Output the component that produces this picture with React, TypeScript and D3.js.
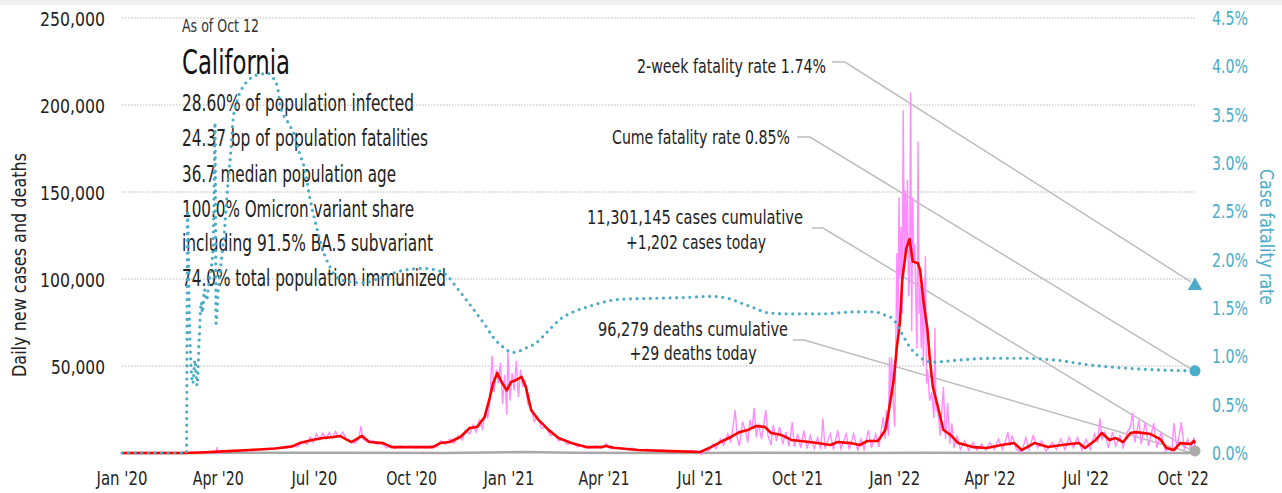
import React from "react";
import * as d3 from "d3";

const width = 1282;
const height = 493;
const FONT = "'Liberation Sans Narrow', 'Arial Narrow', 'DejaVu Sans Condensed', sans-serif";
const TEAL = "#4aacc6";

// left axis (cases) and right axis (case fatality rate, %)
const caseTicks = [50000, 100000, 150000, 200000, 250000];
const rateTicks = [0, 0.5, 1, 1.5, 2, 2.5, 3, 3.5, 4, 4.5];

const asOf = "As of Oct 12";
const stateName = "California";
const infoLines = [
  "28.60% of population infected",
  "24.37 bp of population fatalities",
  "36.7 median population age",
  "100.0% Omicron variant share",
  "including 91.5% BA.5 subvariant",
  "74.0% total population immunized",
];

const twoWeekRate = 1.74;
const cumeRate = 0.85;
const casesCumulative = "11,301,145";
const casesToday = 1202;
const deathsCumulative = "96,279";
const deathsToday = 29;

// 7-day average of new cases
const cases7day: [string, number][] = [
  ["2020-01-01", 0], ["2020-03-01", 0], ["2020-03-20", 400], ["2020-04-10", 1100],
  ["2020-05-01", 1700], ["2020-05-25", 2600], ["2020-06-10", 3800], ["2020-06-17", 5700],
  ["2020-06-29", 7500], ["2020-07-09", 8600], ["2020-07-19", 9200], ["2020-07-25", 9800],
  ["2020-08-05", 6300], ["2020-08-15", 9800], ["2020-08-22", 6300], ["2020-09-04", 5700],
  ["2020-09-12", 3400], ["2020-10-21", 3400], ["2020-10-28", 5700], ["2020-11-06", 6300],
  ["2020-11-16", 9200], ["2020-11-25", 14400], ["2020-12-02", 15000], ["2020-12-09", 20700],
  ["2020-12-14", 32000], ["2020-12-17", 40000], ["2020-12-21", 46000], ["2020-12-25", 40800],
  ["2020-12-30", 36000], ["2021-01-03", 40800], ["2021-01-08", 42000], ["2021-01-13", 43700],
  ["2021-01-17", 38000], ["2021-01-22", 24700], ["2021-01-29", 19000], ["2021-02-08", 13000],
  ["2021-02-17", 8600], ["2021-03-01", 5700], ["2021-03-15", 3400], ["2021-03-30", 3400],
  ["2021-04-03", 4000], ["2021-04-10", 3000], ["2021-05-03", 1700], ["2021-06-03", 1100],
  ["2021-07-01", 600], ["2021-07-11", 3400], ["2021-07-20", 6300], ["2021-07-30", 9200],
  ["2021-08-07", 12000], ["2021-08-15", 13200], ["2021-08-23", 15500], ["2021-08-31", 15000],
  ["2021-09-06", 11500], ["2021-09-16", 10300], ["2021-09-25", 7500], ["2021-10-04", 6900],
  ["2021-10-20", 5700], ["2021-11-01", 4600], ["2021-11-08", 6300], ["2021-11-20", 5700],
  ["2021-11-29", 4600], ["2021-12-06", 6900], ["2021-12-16", 6900], ["2021-12-18", 8600],
  ["2021-12-23", 13200], ["2021-12-26", 23000], ["2021-12-31", 42000], ["2022-01-03", 61000],
  ["2022-01-06", 76000], ["2022-01-08", 99000], ["2022-01-12", 118000], ["2022-01-15", 123000],
  ["2022-01-18", 110000], ["2022-01-23", 109000], ["2022-01-25", 105000], ["2022-01-28", 88000],
  ["2022-02-01", 70700], ["2022-02-03", 55000], ["2022-02-06", 38000], ["2022-02-11", 26000],
  ["2022-02-16", 13200], ["2022-02-23", 10300], ["2022-03-02", 5700], ["2022-03-16", 3400],
  ["2022-03-29", 2900], ["2022-04-12", 4600], ["2022-04-24", 5700], ["2022-05-01", 1700],
  ["2022-05-13", 5700], ["2022-05-26", 3400], ["2022-06-08", 4600], ["2022-06-24", 5700],
  ["2022-06-30", 2900], ["2022-07-10", 7500], ["2022-07-16", 11500], ["2022-07-23", 7500],
  ["2022-07-29", 8600], ["2022-08-05", 6300], ["2022-08-12", 11500], ["2022-08-17", 12000],
  ["2022-08-31", 10900], ["2022-09-09", 8000], ["2022-09-15", 2900], ["2022-09-22", 1700],
  ["2022-09-28", 5700], ["2022-10-08", 5200], ["2022-10-11", 6900], ["2022-10-12", 5700],
];

// reported new cases per day
const casesDaily: [string, number][] = [
  ["2020-01-01", 0], ["2020-03-01", 0], ["2020-03-20", 300], ["2020-03-30", 800], ["2020-03-31", 3400],
  ["2020-04-01", -400], ["2020-04-10", 1200], ["2020-04-20", 1000], ["2020-05-01", 1800], ["2020-05-15", 2000],
  ["2020-05-25", 2800], ["2020-06-05", 3000], ["2020-06-10", 4200], ["2020-06-15", 3600], ["2020-06-20", 6500],
  ["2020-06-24", 5000], ["2020-06-27", 9000], ["2020-06-30", 6000], ["2020-07-03", 11000], ["2020-07-06", 7500],
  ["2020-07-09", 11500], ["2020-07-12", 8000], ["2020-07-15", 11800], ["2020-07-18", 8500], ["2020-07-21", 12500],
  ["2020-07-24", 9000], ["2020-07-28", 12000], ["2020-07-31", 8000], ["2020-08-04", 7000], ["2020-08-08", 5500],
  ["2020-08-12", 8000], ["2020-08-14", 15500], ["2020-08-16", 8000], ["2020-08-20", 6500], ["2020-08-25", 7000],
  ["2020-08-29", 5000], ["2020-09-02", 6000], ["2020-09-07", 3000], ["2020-09-11", 4500], ["2020-09-15", 2500],
  ["2020-09-20", 4200], ["2020-09-25", 3000], ["2020-09-30", 4000], ["2020-10-05", 2800], ["2020-10-10", 4000],
  ["2020-10-15", 2800], ["2020-10-20", 4200], ["2020-10-25", 3500], ["2020-10-29", 7000], ["2020-11-02", 5000],
  ["2020-11-06", 8000], ["2020-11-10", 5500], ["2020-11-14", 10000], ["2020-11-18", 7500], ["2020-11-21", 13000],
  ["2020-11-25", 11000], ["2020-11-28", 16000], ["2020-12-01", 12000], ["2020-12-04", 19000], ["2020-12-07", 14000],
  ["2020-12-10", 24000], ["2020-12-12", 20000], ["2020-12-14", 30000], ["2020-12-16", 56000], ["2020-12-18", 35000],
  ["2020-12-20", 48000], ["2020-12-22", 40000], ["2020-12-24", 52000], ["2020-12-26", 28000], ["2020-12-28", 45000],
  ["2020-12-30", 22000], ["2020-12-31", 58000], ["2021-01-02", 30000], ["2021-01-04", 46000], ["2021-01-06", 36000],
  ["2021-01-08", 53000], ["2021-01-10", 32000], ["2021-01-12", 48000], ["2021-01-14", 38000], ["2021-01-16", 42000],
  ["2021-01-19", 28000], ["2021-01-22", 26000], ["2021-01-25", 18000], ["2021-01-28", 21000], ["2021-02-01", 14000],
  ["2021-02-05", 15000], ["2021-02-09", 10000], ["2021-02-13", 11000], ["2021-02-17", 7000], ["2021-02-21", 8000],
  ["2021-02-25", 5000], ["2021-03-02", 6000], ["2021-03-07", 3500], ["2021-03-12", 4500], ["2021-03-18", 2800],
  ["2021-03-24", 4000], ["2021-03-30", 3000], ["2021-04-03", 5500], ["2021-04-07", 2500], ["2021-04-14", 3200],
  ["2021-04-21", 2200], ["2021-04-28", 2800], ["2021-05-05", 1500], ["2021-05-12", 2200], ["2021-05-19", 1200],
  ["2021-05-26", 1800], ["2021-06-02", 900], ["2021-06-09", 1500], ["2021-06-16", 700], ["2021-06-23", 1400],
  ["2021-06-30", 500], ["2021-07-02", -1000], ["2021-07-06", 2000], ["2021-07-09", 1000], ["2021-07-13", 5000],
  ["2021-07-16", 2500], ["2021-07-20", 8000], ["2021-07-23", 4500], ["2021-07-27", 11000], ["2021-07-30", 6000],
  ["2021-08-03", 24700], ["2021-08-05", 9000], ["2021-08-07", 4000], ["2021-08-10", 18000], ["2021-08-13", 12000],
  ["2021-08-15", 6000], ["2021-08-17", 19000], ["2021-08-19", 14000], ["2021-08-21", 25900], ["2021-08-23", 9000],
  ["2021-08-25", 17000], ["2021-08-28", 8000], ["2021-09-01", 24700], ["2021-09-03", 10000], ["2021-09-06", 4500],
  ["2021-09-08", 16000], ["2021-09-11", 7000], ["2021-09-14", 15000], ["2021-09-17", 5000], ["2021-09-20", 12000],
  ["2021-09-23", 4000], ["2021-09-26", 17800], ["2021-09-28", 3500], ["2021-10-01", 11000], ["2021-10-04", 3000],
  ["2021-10-07", 13000], ["2021-10-10", 2500], ["2021-10-13", 10000], ["2021-10-17", 2500], ["2021-10-20", 9000],
  ["2021-10-23", 2000], ["2021-10-25", 20000], ["2021-10-27", 2500], ["2021-11-01", 11000], ["2021-11-04", 2000],
  ["2021-11-08", 13000], ["2021-11-11", 2500], ["2021-11-16", 11000], ["2021-11-19", 2000], ["2021-11-23", 11000],
  ["2021-11-27", 1500], ["2021-11-30", 8000], ["2021-12-03", 2000], ["2021-12-07", 13000], ["2021-12-10", 3000],
  ["2021-12-14", 11000], ["2021-12-17", 3500], ["2021-12-21", 20700], ["2021-12-23", 8000], ["2021-12-24", 24700],
  ["2021-12-26", 10000], ["2021-12-27", 55000], ["2021-12-28", 30000], ["2021-12-29", 55000], ["2021-12-31", 25000],
  ["2022-01-01", 15000], ["2022-01-03", 115000], ["2022-01-04", 70000], ["2022-01-05", 147000], ["2022-01-06", 100000],
  ["2022-01-07", 130000], ["2022-01-08", 80000], ["2022-01-09", 197000], ["2022-01-10", 110000], ["2022-01-11", 151000],
  ["2022-01-12", 120000], ["2022-01-13", 157000], ["2022-01-14", 90000], ["2022-01-15", 100000], ["2022-01-16", 207000],
  ["2022-01-17", 70000], ["2022-01-18", 147000], ["2022-01-19", 110000], ["2022-01-20", 120000], ["2022-01-21", 85000],
  ["2022-01-22", 60000], ["2022-01-23", 179000], ["2022-01-24", 80000], ["2022-01-25", 95000], ["2022-01-26", 60000],
  ["2022-01-27", 99000], ["2022-01-28", 50000], ["2022-01-30", 113000], ["2022-01-31", 40000], ["2022-02-01", 48000],
  ["2022-02-03", 30000], ["2022-02-05", 35000], ["2022-02-07", 20000], ["2022-02-08", 72000], ["2022-02-09", 25000],
  ["2022-02-11", 23000], ["2022-02-13", 10000], ["2022-02-16", 38000], ["2022-02-18", 8000], ["2022-02-20", 28700],
  ["2022-02-22", 5000], ["2022-02-24", 17000], ["2022-02-26", 3000], ["2022-03-01", 10000], ["2022-03-04", 2000],
  ["2022-03-08", 7000], ["2022-03-12", 1500], ["2022-03-16", 6000], ["2022-03-20", 1500], ["2022-03-24", 5000],
  ["2022-03-28", 1500], ["2022-04-01", 6000], ["2022-04-05", 2000], ["2022-04-09", 8000], ["2022-04-13", 2000],
  ["2022-04-18", 12000], ["2022-04-20", 4000], ["2022-04-22", 10000], ["2022-04-26", 2000], ["2022-05-01", 500],
  ["2022-05-05", 9000], ["2022-05-08", 2000], ["2022-05-12", 10000], ["2022-05-16", 3000], ["2022-05-20", 7000],
  ["2022-05-24", 1000], ["2022-05-30", 6000], ["2022-06-03", 2000], ["2022-06-07", 8000], ["2022-06-11", 2000],
  ["2022-06-15", 9000], ["2022-06-19", 3000], ["2022-06-23", 9000], ["2022-06-27", 1500], ["2022-07-01", 8000],
  ["2022-07-05", 2000], ["2022-07-09", 11000], ["2022-07-12", 6000], ["2022-07-14", 20000], ["2022-07-16", 8000],
  ["2022-07-19", 12000], ["2022-07-22", 3000], ["2022-07-26", 12000], ["2022-07-29", 4000], ["2022-08-02", 10000],
  ["2022-08-05", 3000], ["2022-08-09", 12000], ["2022-08-12", 15000], ["2022-08-14", 23000], ["2022-08-16", 6000],
  ["2022-08-20", 19000], ["2022-08-22", 5000], ["2022-08-26", 17800], ["2022-08-29", 4000], ["2022-09-03", 17200],
  ["2022-09-06", 3000], ["2022-09-10", 12000], ["2022-09-14", 1000], ["2022-09-18", 3000], ["2022-09-20", 500],
  ["2022-09-22", 17200], ["2022-09-25", 2000], ["2022-09-29", 17800], ["2022-10-02", 2000], ["2022-10-05", 8000],
  ["2022-10-08", 2000], ["2022-10-11", 9000], ["2022-10-12", 1202],
];

// 7-day average of new deaths
const deaths7day: [string, number][] = [
  ["2020-01-01", 0], ["2020-03-15", 10], ["2020-04-20", 80], ["2020-08-01", 130], ["2020-11-01", 40],
  ["2021-01-15", 550], ["2021-03-01", 200], ["2021-06-01", 20], ["2021-09-01", 100], ["2021-12-01", 40],
  ["2022-02-01", 200], ["2022-05-01", 20], ["2022-08-01", 40], ["2022-10-12", 29],
];

// cumulative case fatality rate, %
const fatalityRate: [string, number][] = [
  ["2020-01-01", 0], ["2020-03-02", 0], ["2020-03-03", 2.51], ["2020-03-05", 1.27], ["2020-03-08", 0.72],
  ["2020-03-10", 0.96], ["2020-03-12", 0.7], ["2020-03-14", 1.17], ["2020-03-16", 1.56], ["2020-03-17", 1.45],
  ["2020-03-19", 1.69], ["2020-03-21", 1.58], ["2020-03-23", 1.74], ["2020-03-25", 1.89], ["2020-03-27", 2.1],
  ["2020-03-28", 2.62], ["2020-03-29", 3.42], ["2020-03-30", 1.34], ["2020-04-01", 1.69], ["2020-04-03", 1.89],
  ["2020-04-05", 2.1], ["2020-04-07", 2.31], ["2020-04-09", 2.62], ["2020-04-11", 2.88], ["2020-04-13", 3.13],
  ["2020-04-15", 3.44], ["2020-04-19", 3.65], ["2020-04-23", 3.76], ["2020-04-28", 3.84], ["2020-05-05", 3.9],
  ["2020-05-12", 3.92], ["2020-05-17", 3.93], ["2020-05-23", 3.88], ["2020-05-27", 3.79], ["2020-05-30", 3.58],
  ["2020-06-06", 3.42], ["2020-06-12", 3.29], ["2020-06-17", 3.1], ["2020-06-22", 2.93], ["2020-06-27", 2.62],
  ["2020-07-03", 2.34], ["2020-07-09", 2.1], ["2020-07-16", 1.92], ["2020-07-23", 1.81], ["2020-08-04", 1.77],
  ["2020-08-16", 1.76], ["2020-09-01", 1.81], ["2020-09-23", 1.89], ["2020-10-12", 1.91], ["2020-10-28", 1.88],
  ["2020-11-03", 1.84], ["2020-11-12", 1.72], ["2020-11-22", 1.58], ["2020-12-01", 1.45], ["2020-12-11", 1.3],
  ["2020-12-17", 1.2], ["2020-12-26", 1.1], ["2021-01-05", 1.04], ["2021-01-18", 1.09], ["2021-01-27", 1.14],
  ["2021-02-06", 1.25], ["2021-02-18", 1.38], ["2021-03-03", 1.46], ["2021-03-16", 1.51], ["2021-03-31", 1.56],
  ["2021-04-16", 1.59], ["2021-05-18", 1.6], ["2021-06-19", 1.61], ["2021-07-11", 1.62], ["2021-07-27", 1.6],
  ["2021-08-09", 1.55], ["2021-08-21", 1.5], ["2021-09-03", 1.45], ["2021-09-22", 1.44], ["2021-10-24", 1.44],
  ["2021-11-24", 1.46], ["2021-12-13", 1.46], ["2021-12-22", 1.43], ["2021-12-31", 1.38], ["2022-01-06", 1.27],
  ["2022-01-15", 1.1], ["2022-01-25", 0.99], ["2022-02-06", 0.94], ["2022-03-01", 0.96], ["2022-04-01", 0.98],
  ["2022-05-02", 0.98], ["2022-06-03", 0.96], ["2022-07-05", 0.91], ["2022-08-05", 0.88], ["2022-09-06", 0.86],
  ["2022-10-12", 0.85],
];

const parse = d3.timeParse("%Y-%m-%d");
const fmtTick = d3.timeFormat("%b '%y");
const fmtNum = d3.format(",");

// plot box
const left = 122;
const right = 1195;
const top = 18;
const bottom = 453;

const App = () => {
  const x = d3.scaleTime().domain([parse("2020-01-01"), parse("2022-10-12")]).range([left, right]);
  const y = d3.scaleLinear().domain([0, 250000]).range([bottom, top]);
  const yR = d3.scaleLinear().domain([0, 4.5]).range([bottom, top]);

  const lineCases = d3.line<[string, number]>().x((d) => x(parse(d[0]))).y((d) => y(d[1]));
  const lineRate = d3
    .line<[string, number]>()
    .x((d) => x(parse(d[0])))
    .y((d) => yR(d[1]))
    .curve(d3.curveMonotoneX);

  const xTicks = x.ticks(d3.timeMonth.every(3));
  const endX = x(parse("2022-10-12"));
  const triY = yR(twoWeekRate);
  const cumeY = yR(cumeRate);
  const casesY = y(casesToday);
  const deathsY = y(deathsToday);
  const tri = d3.symbol(d3.symbolTriangle, 90)();

  // text block layout (widths)
  const infoWidths = [232, 246, 214, 232, 251, 264];
  const infoBase = [111, 146, 181.5, 216.5, 251, 286];

  const leaders = [
    [[832, 62], [845, 62], [endX - 4, triY - 3]],
    [[797, 137], [810, 137], [endX - 4, cumeY - 2]],
    [[812, 228], [823, 228], [endX - 3, casesY]],
    [[793, 340], [804, 340], [endX - 3, deathsY]],
  ];

  return (
    <svg
      width={width}
      height={height}
      style={{ position: "absolute", left: 0, top: 0, background: "#fff" }}
      fontFamily={FONT}
    >
      <rect x={0} y={0} width={width} height={5} fill="#f1f1f1" />

      {/* gridlines */}
      {caseTicks.map((t) => (
        <line key={t} x1={left} x2={right} y1={y(t)} y2={y(t)} stroke="#b8b8b8" strokeWidth={1} strokeDasharray="1.5 1.5" />
      ))}

      {/* left axis */}
      {caseTicks.map((t) => (
        <text
          key={t}
          x={105}
          y={y(t) + 8}
          textAnchor="end"
          fontSize={20}
          fill="#222"
          textLength={t >= 100000 ? 65 : 54}
          lengthAdjust="spacingAndGlyphs"
        >
          {fmtNum(t)}
        </text>
      ))}
      <text
        x={26}
        y={265}
        transform="rotate(-90, 26, 265)"
        textAnchor="middle"
        fontSize={19}
        fill="#222"
        textLength={224}
        lengthAdjust="spacingAndGlyphs"
      >
        Daily new cases and deaths
      </text>

      {/* right axis */}
      {rateTicks.map((t) => (
        <text key={t} x={1212} y={yR(t) + 7} fontSize={19} fill={TEAL} textLength={36} lengthAdjust="spacingAndGlyphs">
          {`${t.toFixed(1)}%`}
        </text>
      ))}
      <text
        x={1260}
        y={237}
        transform="rotate(90, 1260, 237)"
        textAnchor="middle"
        fontSize={20}
        fill={TEAL}
        textLength={136}
        lengthAdjust="spacingAndGlyphs"
      >
        Case fatality rate
      </text>

      {/* x axis */}
      {xTicks.map((d, i) => (
        <text
          key={i}
          x={x(d)}
          y={485}
          textAnchor="middle"
          fontSize={19}
          fill="#222"
          textLength={fmtTick(d).startsWith("Jul") ? 46 : 51}
          lengthAdjust="spacingAndGlyphs"
        >
          {fmtTick(d)}
        </text>
      ))}

      {/* state info block */}
      <text x={182} y={32} fontSize={17} fill="#333" textLength={77} lengthAdjust="spacingAndGlyphs">
        {asOf}
      </text>
      <text x={182} y={74} fontSize={34} fill="#111" textLength={108} lengthAdjust="spacingAndGlyphs">
        {stateName}
      </text>
      {infoLines.map((s, i) => (
        <text key={i} x={182} y={infoBase[i]} fontSize={23} fill="#222" textLength={infoWidths[i]} lengthAdjust="spacingAndGlyphs">
          {s}
        </text>
      ))}

      {/* annotations */}
      {leaders.map((pts, i) => (
        <polyline key={i} points={pts.map((p) => p.join(",")).join(" ")} fill="none" stroke="#bdbdbd" strokeWidth={1.5} />
      ))}
      <text x={826} y={73} textAnchor="end" fontSize={20} fill="#222" textLength={189} lengthAdjust="spacingAndGlyphs">
        {`2-week fatality rate ${twoWeekRate.toFixed(2)}%`}
      </text>
      <text x={790} y={144} textAnchor="end" fontSize={20} fill="#222" textLength={178} lengthAdjust="spacingAndGlyphs">
        {`Cume fatality rate ${cumeRate.toFixed(2)}%`}
      </text>
      <text x={695} y={224} textAnchor="middle" fontSize={20} fill="#222" textLength={216} lengthAdjust="spacingAndGlyphs">
        {`${casesCumulative} cases cumulative`}
      </text>
      <text x={696} y={249} textAnchor="middle" fontSize={20} fill="#222" textLength={140} lengthAdjust="spacingAndGlyphs">
        {`+${fmtNum(casesToday)} cases today`}
      </text>
      <text x={693} y={336} textAnchor="middle" fontSize={20} fill="#222" textLength={190} lengthAdjust="spacingAndGlyphs">
        {`${deathsCumulative} deaths cumulative`}
      </text>
      <text x={693} y={360} textAnchor="middle" fontSize={20} fill="#222" textLength={127} lengthAdjust="spacingAndGlyphs">
        {`+${deathsToday} deaths today`}
      </text>

      {/* series */}
      <path d={lineCases(deaths7day) || ""} fill="none" stroke="#a8a8a8" strokeWidth={2.5} />
      <path d={lineCases(casesDaily) || ""} fill="none" stroke="#ff8cff" strokeWidth={1.4} />
      <path d={lineCases(cases7day) || ""} fill="none" stroke="#ff0000" strokeWidth={2.6} strokeLinejoin="round" />
      <path
        d={lineRate(fatalityRate) || ""}
        fill="none"
        stroke={TEAL}
        strokeWidth={3.2}
        strokeDasharray="0 6.6"
        strokeLinecap="round"
      />

      {/* end markers */}
      <path d={tri || ""} transform={`translate(${endX}, ${triY + 1})`} fill={TEAL} />
      <circle cx={endX} cy={cumeY} r={5.5} fill={TEAL} />
      <circle cx={endX} cy={casesY} r={5.5} fill="#aaa" />
    </svg>
  );
};

export default App;
